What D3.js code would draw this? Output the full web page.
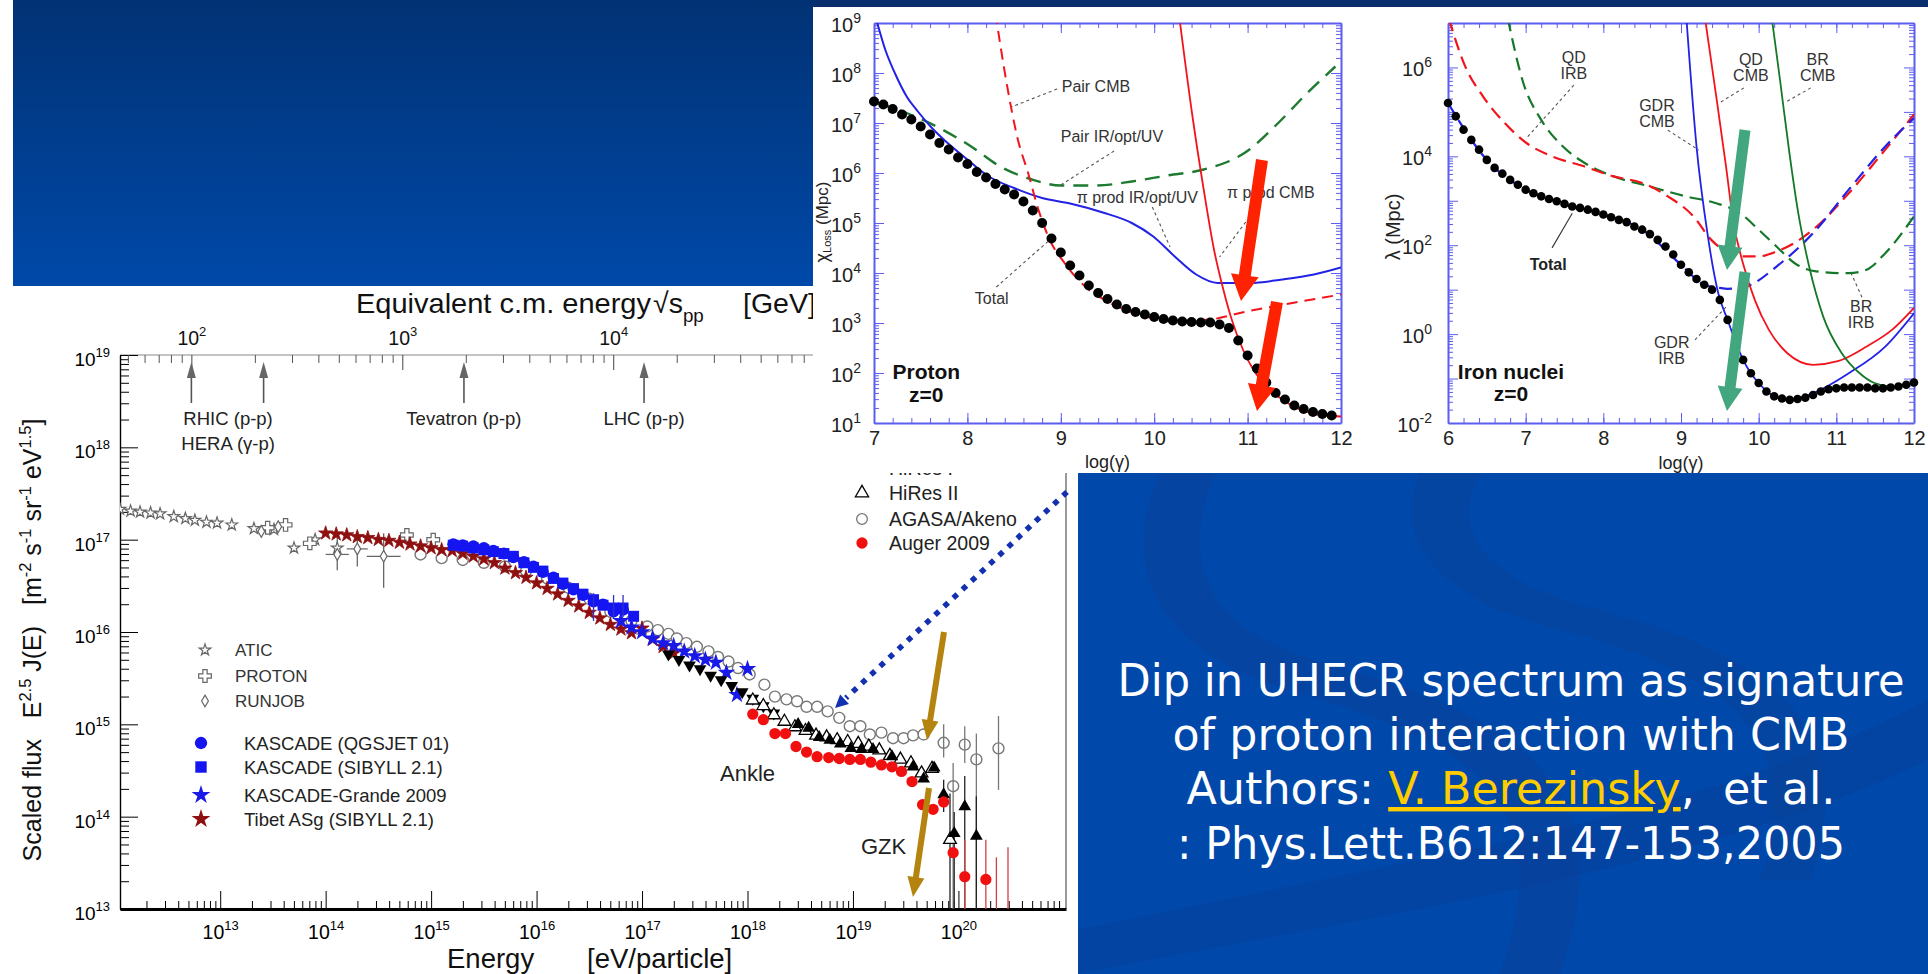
<!DOCTYPE html>
<html>
<head>
<meta charset="utf-8">
<script src="https://cdn.jsdelivr.net/npm/d3@7"></script>
<style>
  html, body { margin: 0; padding: 0; background: #fff; overflow: hidden; }
  svg { display: block; font-family: "Liberation Sans", Arial, sans-serif; }
  .pre { white-space: pre; }
</style>
</head>
<body>
<svg id="slide" width="1928" height="974"></svg>
<script>
// ===== cosmic ray spectrum : log10(E / eV) and log10(E^2.5 J(E)) =====
const aticLogE = [12.05, 12.15, 12.24, 12.34, 12.43, 12.56, 12.67, 12.76, 12.87, 12.97, 13.11, 13.32, 13.51, 13.70, 13.90, 14.11]
const aticLogF = [17.33, 17.31, 17.30, 17.29, 17.28, 17.25, 17.23, 17.21, 17.19, 17.18, 17.16, 17.12, 17.11, 16.91, 17.00, 16.91]

const protonLogE = [13.45, 13.62, 13.85, 14.77, 15.02]
const protonLogF = [17.13, 17.16, 16.96, 17.05, 17.00]

const runjobLogE = [13.39, 13.55, 14.11, 14.30, 14.55]
const runjobLogF = [17.09, 17.14, 16.84, 16.90, 16.82]
const runjobErrLo = [17.04, 17.10, 16.67, 16.71, 16.48]
const runjobErrHi = [17.14, 17.18, 17.07, 17.03, 17.07]
const runjobErrE = [0, 0, 0.11, 0.10, 0.16]

const tibetLogE = [14.0, 14.1, 14.2, 14.3, 14.4, 14.5, 14.6, 14.7, 14.8, 14.9, 15.0, 15.1, 15.2, 15.3, 15.4, 15.5, 15.6,
  15.7, 15.8, 15.9, 16.0, 16.1, 16.2, 16.3, 16.4, 16.5, 16.6, 16.7, 16.8, 16.9, 17.0, 17.1, 17.2, 17.3]
const tibetLogF = [17.07, 17.06, 17.05, 17.03, 17.02, 17.00, 16.99, 16.97, 16.95, 16.93, 16.91, 16.89, 16.88, 16.85, 16.82,
  16.79, 16.75, 16.69, 16.64, 16.59, 16.53, 16.47, 16.41, 16.34, 16.28, 16.21, 16.15, 16.08, 16.03, 15.99, 16.04, 15.92, 15.84, 15.77]

const kascadeQgsLogE = [15.21, 15.30, 15.40, 15.50, 15.59, 15.69, 15.78, 15.88, 15.97, 16.06, 16.16, 16.25, 16.35, 16.44, 16.54, 16.63, 16.73, 16.82]
const kascadeQgsLogF = [16.95, 16.94, 16.93, 16.91, 16.88, 16.85, 16.81, 16.76, 16.71, 16.65, 16.59, 16.52, 16.46, 16.40, 16.33, 16.30, 16.22, 16.24]

const kascadeSibLogE = [15.21, 15.30, 15.40, 15.50, 15.59, 15.69, 15.78, 15.88, 15.97, 16.06, 16.16, 16.25, 16.35, 16.44, 16.54, 16.63, 16.73, 16.82, 16.92]
const kascadeSibLogF = [16.94, 16.93, 16.91, 16.89, 16.87, 16.85, 16.82, 16.75, 16.70, 16.66, 16.58, 16.53, 16.47, 16.41, 16.35, 16.29, 16.26, 16.26, 16.17]

const grandeLogE = [16.8, 16.9, 17.0, 17.1, 17.2, 17.3, 17.4, 17.5, 17.6, 17.7, 17.8, 17.9, 18.0]
const grandeLogF = [16.12, 16.05, 16.00, 15.93, 15.88, 15.85, 15.79, 15.74, 15.70, 15.67, 15.56, 15.32, 15.60]

const hiresMiaLogE = [17.25, 17.35, 17.45, 17.55, 17.65, 17.75, 17.85, 17.95, 18.05, 18.15, 18.25]
const hiresMiaLogF = [15.76, 15.70, 15.64, 15.60, 15.53, 15.48, 15.42, 15.35, 15.28, 15.20, 15.12]

const agasaLogE = [14.9, 15.1, 15.3, 15.5, 15.7, 15.9, 16.1, 16.3, 16.5, 16.7, 16.9, 17.05, 17.15, 17.25, 17.33, 17.42, 17.52,
  17.63, 17.72, 17.82, 17.91, 18.02, 18.16, 18.26, 18.37, 18.47, 18.56, 18.66, 18.76, 18.87, 18.97, 19.07, 19.16, 19.27,
  19.38, 19.48, 19.57, 19.67, 19.86, 19.95, 20.06, 20.17, 20.38]
const agasaLogF = [16.84, 16.80, 16.78, 16.75, 16.71, 16.66, 16.58, 16.48, 16.36, 16.22, 16.12, 16.06, 16.02, 15.98, 15.93,
  15.88, 15.84, 15.79, 15.73, 15.68, 15.61, 15.54, 15.43, 15.30, 15.27, 15.25, 15.19, 15.19, 15.14, 15.07, 14.98, 14.98,
  14.89, 14.91, 14.85, 14.85, 14.88, 14.89, 14.80, 14.33, 14.78, 14.62, 14.74]
const agasaErrE = [19.86, 19.95, 20.06, 20.17, 20.38]
const agasaErrLo = [14.64, 13.0, 14.58, 13.0, 14.29]
const agasaErrHi = [15.00, 14.58, 14.98, 14.90, 15.09]

const hires1LogE = [18.48, 18.58, 18.68, 18.78, 18.88, 18.98, 19.08, 19.19, 19.37, 19.57, 19.67, 19.77, 19.86, 19.96, 20.06, 20.17]
const hires1LogF = [15.00, 14.96, 14.86, 14.83, 14.79, 14.74, 14.73, 14.73, 14.65, 14.54, 14.41, 14.53, 14.24, 13.82, 14.11, 13.79]
const hires1ErrE = [19.86, 19.96, 20.06, 20.17]
const hires1ErrLo = [14.05, 13.0, 13.0, 13.0]
const hires1ErrHi = [14.40, 14.05, 14.44, 14.22]

const hires2LogE = [18.05, 18.15, 18.25, 18.35, 18.45, 18.55, 18.65, 18.75, 18.85, 18.95, 19.05, 19.15, 19.25, 19.35, 19.45, 19.55, 19.65, 19.75, 19.92]
const hires2LogF = [15.26, 15.20, 15.10, 15.03, 14.97, 14.93, 14.88, 14.86, 14.83, 14.81, 14.79, 14.76, 14.72, 14.66, 14.62, 14.58, 14.47, 14.52, 13.75]
const hires2ErrE = [19.92]
const hires2ErrLo = [13.0]
const hires2ErrHi = [14.25]

const augerLogE = [18.05, 18.15, 18.26, 18.36, 18.46, 18.56, 18.66, 18.77, 18.87, 18.97, 19.07, 19.17, 19.27, 19.37, 19.46, 19.56, 19.66, 19.76, 19.86, 19.95, 20.06, 20.26]
const augerLogF = [15.11, 15.05, 14.90, 14.90, 14.76, 14.70, 14.65, 14.64, 14.63, 14.62, 14.62, 14.59, 14.56, 14.54, 14.49, 14.38, 14.13, 14.08, 14.16, 13.61, 13.35, 13.32]
const augerErrE = [20.06, 20.26, 20.36, 20.47]
const augerErrLo = [13.0, 13.0, 13.0, 13.0]
const augerErrHi = [13.75, 13.75, 13.56, 13.67]

const fluxTickExp = [13, 14, 15, 16, 17, 18, 19]
const energyTickExp = [13, 14, 15, 16, 17, 18, 19, 20]
const sqrtsTickExp = [2, 3, 4]

const accelNames = ['RHIC (p-p)', 'HERA (\u03b3-p)', 'Tevatron (p-p)', 'LHC (p-p)']
const accelSqrtS = [100, 220, 1960, 14000]   // GeV

// ===== proton energy loss length : log10(gamma), log10(chi / Mpc) =====
const protonLogG = [7.0, 7.1, 7.2, 7.3, 7.4, 7.5, 7.6, 7.7, 7.8, 7.9, 8.0, 8.1, 8.2, 8.3, 8.4, 8.5, 8.6, 8.7, 8.8, 8.9,
  9.0, 9.1, 9.2, 9.3, 9.4, 9.5, 9.6, 9.7, 9.8, 9.9, 10.0, 10.1, 10.2, 10.3, 10.4, 10.5, 10.6, 10.7, 10.8, 10.9,
  11.0, 11.1, 11.2, 11.3, 11.4, 11.5, 11.6, 11.7, 11.8, 11.9]
const protonTotal = [7.43, 7.37, 7.28, 7.17, 7.07, 6.93, 6.77, 6.60, 6.47, 6.31, 6.18, 6.02, 5.91, 5.78, 5.67, 5.57, 5.43,
  5.25, 5.00, 4.69, 4.41, 4.15, 3.95, 3.75, 3.60, 3.48, 3.37, 3.28, 3.22, 3.17, 3.12, 3.08, 3.05, 3.03, 3.02, 3.01,
  3.01, 2.97, 2.90, 2.65, 2.35, 2.09, 1.81, 1.60, 1.47, 1.35, 1.28, 1.22, 1.18, 1.15]
const pionIrG = [7.02, 7.12, 7.24, 7.35, 7.47, 7.62, 7.77, 8.0, 8.23, 8.5, 8.8, 9.1, 9.45, 9.76, 9.99, 10.22, 10.45, 10.68, 11.02, 11.37, 11.71, 12.0]
const pionIrL = [9.1, 8.47, 7.93, 7.53, 7.23, 6.9, 6.63, 6.27, 5.93, 5.7, 5.5, 5.39, 5.21, 5.0, 4.73, 4.33, 3.97, 3.8, 3.8, 3.87, 3.97, 4.11]
const pairIrG = [7.03, 7.35, 7.73, 8.04, 8.35, 8.69, 9.0, 9.38, 9.76, 10.14, 10.53, 10.99, 11.29, 11.64, 11.94]
const pairIrL = [7.4, 7.2, 6.87, 6.53, 6.13, 5.87, 5.75, 5.75, 5.83, 5.95, 6.07, 6.43, 6.93, 7.6, 8.13]
const pairCmbG = [8.30, 8.42, 8.54, 8.65, 8.75, 8.88, 9.04, 9.26, 9.53, 9.84, 10.22, 10.6, 10.99, 11.48, 12.0]
const pairCmbL = [9.2, 7.8, 6.67, 6.0, 5.33, 4.67, 4.2, 3.73, 3.4, 3.17, 3.03, 3.07, 3.23, 3.4, 3.57]
const pionCmbG = [10.27, 10.41, 10.53, 10.64, 10.74, 10.83, 10.95, 11.06, 11.22, 11.37, 11.56, 11.75, 12.0]
const pionCmbL = [9.1, 7.13, 5.67, 4.47, 3.67, 3.07, 2.47, 2.07, 1.7, 1.47, 1.27, 1.17, 1.13]

// ===== iron nuclei interaction length : log10(gamma), log10(lambda / Mpc) =====
const ironLogG = [6.0, 6.1, 6.2, 6.3, 6.4, 6.5, 6.6, 6.7, 6.8, 6.9, 7.0, 7.1, 7.2, 7.3, 7.4, 7.5, 7.6, 7.7, 7.8, 7.9,
  8.0, 8.1, 8.2, 8.3, 8.4, 8.5, 8.6, 8.7, 8.8, 8.9, 9.0, 9.1, 9.2, 9.3, 9.4, 9.5, 9.6, 9.7, 9.8, 9.9,
  10.0, 10.1, 10.2, 10.3, 10.4, 10.5, 10.6, 10.7, 10.8, 10.9, 11.0, 11.1, 11.2, 11.3, 11.4, 11.5, 11.6, 11.7, 11.8, 11.9, 12.0]
const ironTotal = [5.20, 4.90, 4.60, 4.37, 4.15, 3.92, 3.74, 3.61, 3.47, 3.36, 3.25, 3.17, 3.10, 3.04, 2.99, 2.93, 2.87,
  2.84, 2.80, 2.75, 2.69, 2.63, 2.57, 2.52, 2.42, 2.35, 2.25, 2.12, 1.97, 1.79, 1.56, 1.39, 1.24, 1.11, 1.00, 0.77, 0.32,
  -0.16, -0.58, -0.88, -1.10, -1.29, -1.40, -1.45, -1.48, -1.46, -1.43, -1.37, -1.29, -1.24, -1.22, -1.20, -1.20, -1.20,
  -1.20, -1.22, -1.22, -1.20, -1.18, -1.14, -1.09]
const gdrIrbG = [6.0, 6.5, 7.0, 7.5, 8.0, 8.5, 9.0, 9.3, 9.5, 9.6, 9.75, 9.9, 10.23, 10.7, 11.16, 11.63, 12.0]
const gdrIrbL = [5.2, 3.92, 3.25, 2.93, 2.69, 2.35, 1.56, 1.11, 1.04, 1.02, 1.03, 1.11, 1.52, 2.27, 3.25, 4.22, 4.86]
const gdrCmbG = [9.07, 9.2, 9.34, 9.48, 9.6, 9.7, 9.8, 9.9, 10.0, 10.2, 10.4, 10.7, 11.16, 11.63, 12.0]
const gdrCmbL = [7.1, 4.22, 2.27, 0.92, 0.32, -0.16, -0.58, -0.88, -1.1, -1.4, -1.48, -1.33, -0.88, -0.28, 0.47]
const qdIrbG = [6.01, 6.22, 6.45, 6.73, 7.01, 7.34, 7.76, 8.13, 8.5, 8.83, 9.16, 9.39, 9.62, 9.76, 10.0, 10.23, 10.46, 10.7, 11.16, 11.63, 12.0]
const qdIrbL = [7.1, 6.03, 5.35, 4.75, 4.3, 4.0, 3.77, 3.55, 3.4, 3.1, 2.65, 2.12, 1.82, 1.75, 1.75, 1.86, 2.05, 2.35, 3.17, 4.15, 4.94]
const brIrbG = [6.77, 6.97, 7.2, 7.48, 7.76, 8.13, 8.6, 9.06, 9.44, 9.76, 10.0, 10.23, 10.46, 10.74, 11.16, 11.39, 11.63, 12.0]
const brIrbL = [7.1, 5.65, 4.82, 4.22, 3.85, 3.55, 3.32, 3.1, 2.95, 2.72, 2.35, 1.97, 1.6, 1.41, 1.37, 1.45, 1.82, 2.65]
const qdCmbG = [9.31, 9.46, 9.58, 9.67, 9.81, 9.95, 10.13, 10.37, 10.7, 11.02, 11.39, 11.72, 12.0]
const qdCmbL = [7.1, 5.27, 3.77, 2.57, 1.52, 0.77, 0.1, -0.43, -0.69, -0.61, -0.28, 0.1, 0.59]
const brCmbG = [10.17, 10.28, 10.39, 10.51, 10.65, 10.83, 11.07, 11.3, 11.49, 11.72, 12.0]
const brCmbL = [7.1, 5.65, 4.15, 2.72, 1.52, 0.4, -0.43, -0.88, -1.1, -1.18, -1.1]

const protonTickG = [7, 8, 9, 10, 11, 12]
const protonTickExp = [1, 2, 3, 4, 5, 6, 7, 8, 9]
const ironTickG = [6, 7, 8, 9, 10, 11, 12]
const ironTickExp = [-2, -1, 0, 1, 2, 3, 4, 5, 6, 7]
const ironLabelExp = [-2, 0, 2, 4, 6]

// ---------------------------------------------------------------------------
const svg = d3.select('#slide')
const defs = svg.append('defs')

const topGrad = defs.append('linearGradient').attr('id', 'topBlue').attr('x1', 0).attr('y1', 0).attr('x2', 0).attr('y2', 1)
topGrad.append('stop').attr('offset', '0%').attr('stop-color', '#013274')
topGrad.append('stop').attr('offset', '100%').attr('stop-color', '#0049a9')

svg.append('rect').attr('width', 1928).attr('height', 974).attr('fill', '#fff')

function clip(id, x, y, w, h) {
    defs.append('clipPath').attr('id', id).append('rect').attr('x', x).attr('y', y).attr('width', w).attr('height', h)
    return `url(#${id})`
}

// text with super/subscripts: parts = [[string, 'sup'|'sub'|null]]
function rich(text, parts, fs) {
    let cur = 0
    parts.forEach(([s, k]) => {
        const off = k === 'sup' ? -0.42 * fs : k === 'sub' ? 0.3 * fs : 0
        text.append('tspan').attr('dy', off - cur).attr('font-size', k ? fs * 0.66 : fs).text(s)
        cur = off
    })
}

// rewrite axis tick labels as 10^n
function expTicks(g, fs, supDy) {
    g.selectAll('.tick text').each(function (d) {
        const t = d3.select(this)
        if (t.text() === '') return
        t.text(null)
        t.append('tspan').text('10')
        t.append('tspan').attr('dy', supDy).attr('font-size', Math.round(fs * 0.68)).text(Math.round(Math.log10(d)))
    })
}

function minorLog(lo, hi) {
    const out = []
    for (let p = Math.floor(Math.log10(lo)); p <= Math.ceil(Math.log10(hi)); p++)
        for (let k = 2; k <= 9; k++) { const v = k * 10 ** p; if (v >= lo && v <= hi) out.push(v) }
    return out
}

function blockArrow(g, [x1, y1], [x2, y2], w, hw, hl, color) {
    const L = Math.hypot(x2 - x1, y2 - y1), ux = (x2 - x1) / L, uy = (y2 - y1) / L
    const nx = -uy, ny = ux, bx = x2 - ux * hl, by = y2 - uy * hl
    const pts = [
        [x1 + nx * w / 2, y1 + ny * w / 2], [bx + nx * w / 2, by + ny * w / 2], [bx + nx * hw / 2, by + ny * hw / 2],
        [x2, y2], [bx - nx * hw / 2, by - ny * hw / 2], [bx - nx * w / 2, by - ny * w / 2], [x1 - nx * w / 2, y1 - ny * w / 2]]
    g.append('polygon').attr('points', pts.map(p => p.join(',')).join(' ')).attr('fill', color)
}

// =================== cosmic ray spectrum ===================
const spec = svg.append('g')
const specX = d3.scaleLog().domain([10 ** 12.05, 10 ** 21.02]).range([120, 1066])
const specY = d3.scaleLog().domain([1e13, 1e19]).range([909, 355])
// sqrt(s) of a proton hitting a proton at rest: s = 2 m_p E
const sqrtsX = d3.scaleLog().domain(specX.domain().map(E => Math.sqrt(2 * 0.938e-9 * E))).range(specX.range())

// frame
spec.append('line').attr('x1', 120).attr('x2', 1066).attr('y1', 355).attr('y2', 355).attr('stroke', '#8a8a8a').attr('stroke-width', 1.2)
spec.append('line').attr('x1', 1066).attr('x2', 1066).attr('y1', 355).attr('y2', 909).attr('stroke', '#555').attr('stroke-width', 1.2)

// left axis
const fluxMajor = fluxTickExp.map(p => 10 ** p)
spec.append('g').attr('transform', 'translate(120,0)')
    .call(d3.axisLeft(specY).tickValues(minorLog(1e13, 1e19)).tickSize(-9).tickFormat(''))
    .call(g => g.select('.domain').remove())
spec.append('g').attr('transform', 'translate(120,0)')
    .call(d3.axisLeft(specY).tickValues(fluxMajor).tickSizeInner(-18).tickSizeOuter(0).tickPadding(10).tickFormat(() => 'x'))
    .call(g => g.attr('font-size', 19).attr('font-family', null))
    .call(g => g.select('.domain').attr('stroke-width', 1.4))
    .call(g => g.selectAll('.tick text').attr('dy', '0.55em'))
    .call(g => expTicks(g, 19, -9))

// bottom axis
spec.append('g').attr('transform', 'translate(0,909)')
    .call(d3.axisBottom(specX).tickValues(minorLog(specX.domain()[0], 1e21)).tickSize(-8).tickFormat(''))
    .call(g => g.select('.domain').remove())
spec.append('g').attr('transform', 'translate(0,909)')
    .call(d3.axisBottom(specX).tickValues(energyTickExp.map(p => 10 ** p)).tickSizeInner(-18).tickSizeOuter(0).tickPadding(16).tickFormat(() => 'x'))
    .call(g => g.attr('font-size', 19.5).attr('font-family', null))
    .call(g => g.select('.domain').attr('stroke-width', 3.2))
    .call(g => expTicks(g, 19.5, -9))

// top axis: equivalent centre-of-mass energy
spec.append('g').attr('transform', 'translate(0,355)').attr('color', '#555')
    .call(d3.axisTop(sqrtsX).tickValues(minorLog(sqrtsX.domain()[0], sqrtsX.domain()[1])).tickSize(-8).tickFormat(''))
    .call(g => g.select('.domain').remove())
spec.append('g').attr('transform', 'translate(0,355)').attr('color', '#444')
    .call(d3.axisTop(sqrtsX).tickValues(sqrtsTickExp.map(p => 10 ** p)).tickSizeInner(-15).tickSizeOuter(0).tickPadding(10).tickFormat(() => 'x'))
    .call(g => g.attr('font-size', 19.5).attr('font-family', null))
    .call(g => g.select('.domain').remove())
    .call(g => g.selectAll('text').attr('fill', '#111'))
    .call(g => expTicks(g, 19.5, -9))

spec.append('text').attr('x', 356).attr('y', 313).attr('font-size', 28.5).attr('fill', '#111')
    .attr('textLength', 295).attr('lengthAdjust', 'spacingAndGlyphs').text('Equivalent c.m. energy')
const rootS = spec.append('text').attr('x', 653).attr('y', 313).attr('fill', '#111')
rich(rootS, [['\u221as', null], ['pp', 'sub']], 28.5)
spec.append('text').attr('x', 743).attr('y', 313).attr('font-size', 28.5).attr('fill', '#111').text('[GeV]')

// accelerator arrows
const accel = spec.append('g')
accelSqrtS.forEach((s, i) => {
    const x = sqrtsX(s)
    accel.append('line').attr('x1', x).attr('x2', x).attr('y1', 403).attr('y2', 374).attr('stroke', '#555').attr('stroke-width', 1.6)
    accel.append('path').attr('d', `M${x},362L${x - 4.5},378L${x + 4.5},378Z`).attr('fill', '#666')
})
const accelLabelX = [sqrtsX(accelSqrtS[0]) - 8, sqrtsX(accelSqrtS[0]) - 10, sqrtsX(accelSqrtS[2]), sqrtsX(accelSqrtS[3])]
const accelLabelY = [425, 450, 425, 425]
const accelAnchor = ['start', 'start', 'middle', 'middle']
accelNames.forEach((n, i) => {
    accel.append('text').attr('x', accelLabelX[i]).attr('y', accelLabelY[i]).attr('text-anchor', accelAnchor[i])
        .attr('font-size', 18.5).attr('fill', '#222').text(n)
})

// axis titles
const yTitle = spec.append('text').attr('class', 'pre').attr('transform', 'translate(41,640) rotate(-90)')
    .attr('text-anchor', 'middle').attr('fill', '#111')
rich(yTitle, [['Scaled flux   E', null], ['2.5', 'sup'], [' J(E)   [m', null], ['-2', 'sup'], [' s', null], ['-1', 'sup'],
    [' sr', null], ['-1', 'sup'], [' eV', null], ['1.5', 'sup'], [']', null]], 25)
spec.append('text').attr('x', 447).attr('y', 968).attr('font-size', 27.5).attr('fill', '#111').text('Energy')
spec.append('text').attr('x', 587).attr('y', 968).attr('font-size', 27.5).attr('fill', '#111').text('[eV/particle]')

// data
const specData = spec.append('g').attr('clip-path', clip('specClip', 120, 355, 946, 556))
const px = d => specX(10 ** d[0]), py = d => specY(10 ** d[1])

function errBars(g, es, lo, hi, color, width) {
    g.selectAll(null).data(d3.zip(es, lo, hi)).join('line')
        .attr('x1', d => specX(10 ** d[0])).attr('x2', d => specX(10 ** d[0]))
        .attr('y1', d => specY(10 ** d[1])).attr('y2', d => specY(10 ** d[2]))
        .attr('stroke', color).attr('stroke-width', width)
}
function points(g, es, fs, type, size, fill, stroke, sw, rot) {
    g.selectAll(null).data(d3.zip(es, fs)).join('path')
        .attr('transform', d => `translate(${px(d)},${py(d)})${rot ? ' rotate(180)' : ''}`)
        .attr('d', d3.symbol(type, size)).attr('fill', fill).attr('stroke', stroke).attr('stroke-width', sw)
}

errBars(specData, runjobLogE, runjobErrLo, runjobErrHi, '#666', 1.3)
specData.selectAll(null).data(d3.zip(runjobLogE, runjobLogF, runjobErrE)).join('line')
    .attr('x1', d => specX(10 ** (d[0] - d[2]))).attr('x2', d => specX(10 ** (d[0] + d[2])))
    .attr('y1', py).attr('y2', py).attr('stroke', '#666').attr('stroke-width', 1.2)
points(specData, aticLogE, aticLogF, d3.symbolStar, 42, '#fff', '#666', 1.2)
points(specData, protonLogE, protonLogF, d3.symbolCross, 90, '#fff', '#666', 1.2)
points(specData, runjobLogE, runjobLogF, d3.symbolDiamond, 40, '#fff', '#666', 1.2)
points(specData, agasaLogE, agasaLogF, d3.symbolCircle, 95, '#fff', '#777', 1.4)
points(specData, tibetLogE, tibetLogF, d3.symbolStar, 62, '#8e0f0f', '#8e0f0f', 0.8)
points(specData, kascadeQgsLogE, kascadeQgsLogF, d3.symbolCircle, 110, '#1515f2', 'none', 0)
points(specData, kascadeSibLogE, kascadeSibLogF, d3.symbolSquare, 120, '#1515f2', 'none', 0)
errBars(specData, [16.54, 16.73, 16.82], [16.12, 16.14, 16.16], [16.42, 16.40, 16.40], '#3030c8', 1.3)
points(specData, grandeLogE, grandeLogF, d3.symbolStar, 95, '#1a1ae8', 'none', 0)
points(specData, hiresMiaLogE, hiresMiaLogF, d3.symbolTriangle, 70, '#000', 'none', 0, true)
errBars(specData, agasaErrE, agasaErrLo, agasaErrHi, '#777', 1.3)
errBars(specData, hires1ErrE, hires1ErrLo, hires1ErrHi, '#222', 1.3)
errBars(specData, hires2ErrE, hires2ErrLo, hires2ErrHi, '#222', 1.3)
errBars(specData, augerErrE, augerErrLo, augerErrHi, '#d04040', 1.3)
points(specData, hires2LogE, hires2LogF, d3.symbolTriangle, 70, '#fff', '#000', 1.3)
points(specData, hires1LogE, hires1LogF, d3.symbolTriangle, 70, '#000', 'none', 0)
points(specData, augerLogE, augerLogF, d3.symbolCircle, 100, '#f01010', 'none', 0)

// legends
const legA = spec.append('g')
const legAItems = [['ATIC', d3.symbolStar, 42, '#fff', '#666'], ['PROTON', d3.symbolCross, 90, '#fff', '#666'], ['RUNJOB', d3.symbolDiamond, 40, '#fff', '#666']]
const legAY = [650, 676, 701]
legAItems.forEach((it, i) => {
    legA.append('path').attr('transform', `translate(205,${legAY[i]})`).attr('d', d3.symbol(it[1], it[2])).attr('fill', it[3]).attr('stroke', it[4]).attr('stroke-width', 1.2)
    legA.append('text').attr('x', 235).attr('y', legAY[i] + 6).attr('font-size', 17).attr('fill', '#333').text(it[0])
})
const legB = spec.append('g')
const legBItems = [['KASCADE (QGSJET 01)', d3.symbolCircle, 120, '#1515f2'], ['KASCADE (SIBYLL 2.1)', d3.symbolSquare, 130, '#1515f2'],
    ['KASCADE-Grande 2009', d3.symbolStar, 110, '#1a1ae8'], ['Tibet ASg (SIBYLL 2.1)', d3.symbolStar, 110, '#8e0f0f']]
const legBY = [743, 767, 795, 819]
legBItems.forEach((it, i) => {
    legB.append('path').attr('transform', `translate(201,${legBY[i]})`).attr('d', d3.symbol(it[1], it[2])).attr('fill', it[3])
    legB.append('text').attr('x', 244).attr('y', legBY[i] + 7).attr('font-size', 18.5).attr('fill', '#222').text(it[0])
})
const legC = spec.append('g')
const legCItems = [['HiRes I', d3.symbolTriangle, 75, '#000', 'none'], ['HiRes II', d3.symbolTriangle, 75, '#fff', '#000'],
    ['AGASA/Akeno', d3.symbolCircle, 90, '#fff', '#777'], ['Auger 2009', d3.symbolCircle, 100, '#f01010', 'none']]
const legCY = [468, 493, 519, 543]
legCItems.forEach((it, i) => {
    legC.append('path').attr('transform', `translate(862,${legCY[i]})`).attr('d', d3.symbol(it[1], it[2])).attr('fill', it[3]).attr('stroke', it[4]).attr('stroke-width', 1.3)
    legC.append('text').attr('x', 889).attr('y', legCY[i] + 7).attr('font-size', 19.5).attr('fill', '#222').text(it[0])
})

spec.append('text').attr('x', specX(10 ** 18.0)).attr('y', specY(10 ** 14.47) + 8).attr('text-anchor', 'middle').attr('font-size', 22).attr('fill', '#222').text('Ankle')
spec.append('text').attr('x', specX(10 ** 19.29)).attr('y', specY(10 ** 13.68) + 8).attr('text-anchor', 'middle').attr('font-size', 22).attr('fill', '#222').text('GZK')

// =================== loss-length panels ===================
svg.append('rect').attr('x', 813).attr('y', 0).attr('width', 1115).attr('height', 473).attr('fill', '#fff')

const BLUE = '#2222e6', RED = '#f2141c', GREEN = '#147828', FRAME = '#5d5df0'

function lossAxes(g, x, y, xTicks, yExp, labelExp, labelPad) {
    const [x0, x1] = x.range(), [y0, y1] = y.range()
    const [g0, g1] = x.domain()
    const xMinor = d3.range(Math.round(g0 * 5), Math.round(g1 * 5) + 1).map(v => v / 5)
    const yMinor = minorLog(y.domain()[0], y.domain()[1])
    const yMajor = yExp.map(p => 10 ** p)
    const style = a => a.attr('color', FRAME).attr('font-size', 20).attr('font-family', null)
        .call(s => s.selectAll('text').attr('fill', '#222'))
    g.append('g').attr('transform', `translate(0,${y0})`).call(d3.axisBottom(x).tickValues(xMinor).tickSize(-5).tickFormat('')).call(style).call(s => s.select('.domain').remove())
    g.append('g').attr('transform', `translate(0,${y0})`).call(d3.axisBottom(x).tickValues(xTicks).tickSizeInner(-10).tickSizeOuter(0).tickPadding(8).tickFormat(d3.format('d'))).call(style)
        .call(s => s.select('.domain').attr('stroke-width', 2))
    g.append('g').attr('transform', `translate(0,${y1})`).call(d3.axisTop(x).tickValues(xMinor).tickSize(-5).tickFormat('')).call(style).call(s => s.select('.domain').remove())
    g.append('g').attr('transform', `translate(0,${y1})`).call(d3.axisTop(x).tickValues(xTicks).tickSizeInner(-10).tickSizeOuter(0).tickFormat('')).call(style)
        .call(s => s.select('.domain').attr('stroke-width', 2))
    g.append('g').attr('transform', `translate(${x0},0)`).call(d3.axisLeft(y).tickValues(yMinor).tickSize(-5).tickFormat('')).call(style).call(s => s.select('.domain').remove())
    g.append('g').attr('transform', `translate(${x0},0)`)
        .call(d3.axisLeft(y).tickValues(yMajor).tickSizeInner(-10).tickSizeOuter(0).tickPadding(labelPad)
            .tickFormat(d => labelExp.includes(Math.round(Math.log10(d))) ? 'x' : ''))
        .call(style).call(s => s.select('.domain').attr('stroke-width', 2))
        .call(s => s.selectAll('.tick text').attr('dy', '0.4em'))
        .call(s => expTicks(s, 20, -9))
    g.append('g').attr('transform', `translate(${x1},0)`).call(d3.axisRight(y).tickValues(yMinor).tickSize(-5).tickFormat('')).call(style).call(s => s.select('.domain').remove())
    g.append('g').attr('transform', `translate(${x1},0)`).call(d3.axisRight(y).tickValues(yMajor).tickSizeInner(-10).tickSizeOuter(0).tickFormat('')).call(style)
        .call(s => s.select('.domain').attr('stroke-width', 2))
}

function lossCurve(g, x, y, gs, ls, color, dash, width) {
    g.append('path').datum(d3.zip(gs, ls))
        .attr('d', d3.line().x(d => x(d[0])).y(d => y(10 ** d[1])).curve(d3.curveMonotoneX))
        .attr('fill', 'none').attr('stroke', color).attr('stroke-width', width || 2).attr('stroke-dasharray', dash || null)
}

function leader(g, x, y, a, b, solid) {
    g.append('line').attr('x1', x(a[0])).attr('y1', y(10 ** a[1])).attr('x2', x(b[0])).attr('y2', y(10 ** b[1]))
        .attr('stroke', solid ? '#333' : '#555').attr('stroke-width', 1.1).attr('stroke-dasharray', solid ? null : '3 3')
}

function note(g, x, y, at, lines, opts = {}) {
    const t = g.append('text').attr('x', x(at[0])).attr('y', y(10 ** at[1])).attr('text-anchor', opts.anchor || 'middle')
        .attr('font-size', opts.fs || 16).attr('font-weight', opts.bold ? 'bold' : null).attr('fill', opts.color || '#333')
    lines.forEach((l, i) => t.append('tspan').attr('x', x(at[0])).attr('dy', i ? (opts.lh || 16) : 0).text(l))
    return t
}

// ---- proton ----
const pg = svg.append('g')
const pX = d3.scaleLinear().domain([7, 12]).range([874, 1341])
const pY = d3.scaleLog().domain([1e1, 1e9]).range([423, 23])
lossAxes(pg, pX, pY, protonTickG, protonTickExp, protonTickExp, 13)
const pLines = pg.append('g').attr('clip-path', clip('pClip', 874, 23, 467, 400))
lossCurve(pLines, pX, pY, pairIrG, pairIrL, '#1d7a30', '15 9', 2.4)
lossCurve(pLines, pX, pY, pionIrG, pionIrL, BLUE, null, 2)
lossCurve(pLines, pX, pY, pairCmbG, pairCmbL, RED, '11 7', 2)
lossCurve(pLines, pX, pY, pionCmbG, pionCmbL, RED, null, 1.8)
pg.append('g').selectAll('circle').data(d3.zip(protonLogG, protonTotal)).join('circle')
    .attr('cx', d => pX(d[0])).attr('cy', d => pY(10 ** d[1])).attr('r', 5).attr('fill', '#000')

leader(pg, pX, pY, [8.96, 7.68], [8.47, 7.32])
leader(pg, pX, pY, [9.57, 6.44], [9.0, 5.76])
leader(pg, pX, pY, [9.98, 5.32], [10.17, 4.52])
leader(pg, pX, pY, [10.98, 5.02], [10.70, 4.32])
leader(pg, pX, pY, [8.31, 3.72], [8.88, 4.66])
note(pg, pX, pY, [9.01, 7.62], ['Pair CMB'], { anchor: 'start' })
note(pg, pX, pY, [9.0, 6.62], ['Pair IR/opt/UV'], { anchor: 'start' })
note(pg, pX, pY, [9.17, 5.40], ['\u03c0 prod IR/opt/UV'], { anchor: 'start' })
note(pg, pX, pY, [10.78, 5.50], ['\u03c0 prod CMB'], { anchor: 'start' })
note(pg, pX, pY, [8.08, 3.38], ['Total'], { anchor: 'start' })
note(pg, pX, pY, [7.56, 1.88], ['Proton', 'z=0'], { bold: true, fs: 21, lh: 23, color: '#111' })

pg.append('text').attr('x', pX(9.5)).attr('y', 468).attr('text-anchor', 'middle').attr('font-size', 18).attr('fill', '#222').text('log(\u03b3)')
const pYt = pg.append('text').attr('class', 'pre').attr('transform', 'translate(828,222) rotate(-90)').attr('text-anchor', 'middle').attr('fill', '#222')
pYt.append('tspan').attr('font-size', 18).text('\u03c7')
pYt.append('tspan').attr('font-size', 11).attr('dy', 3).text('Loss')
pYt.append('tspan').attr('font-size', 17).attr('dy', -3).text(' (Mpc)')

// ---- iron ----
const ig = svg.append('g')
const iX = d3.scaleLinear().domain([6, 12]).range([1448, 1914])
const iY = d3.scaleLog().domain([1e-2, 1e7]).range([423, 23])
lossAxes(ig, iX, iY, ironTickG, ironTickExp, ironLabelExp, 16)
const iLines = ig.append('g').attr('clip-path', clip('iClip', 1448, 23, 466, 400))
lossCurve(iLines, iX, iY, brIrbG, brIrbL, GREEN, '13 7', 2.2)
lossCurve(iLines, iX, iY, qdIrbG, qdIrbL, RED, '13 7', 2.2)
lossCurve(iLines, iX, iY, gdrIrbG, gdrIrbL, BLUE, '13 7', 2.2)
lossCurve(iLines, iX, iY, gdrCmbG, gdrCmbL, BLUE, null, 1.8)
lossCurve(iLines, iX, iY, qdCmbG, qdCmbL, RED, null, 1.8)
lossCurve(iLines, iX, iY, brCmbG, brCmbL, GREEN, null, 1.8)
ig.append('g').selectAll('circle').data(d3.zip(ironLogG, ironTotal)).join('circle')
    .attr('cx', d => iX(d[0])).attr('cy', d => iY(10 ** d[1])).attr('r', 4.3).attr('fill', '#000')

leader(ig, iX, iY, [7.62, 5.60], [7.02, 4.43])
leader(ig, iX, iY, [9.81, 5.54], [9.49, 5.20])
leader(ig, iX, iY, [10.67, 5.54], [10.35, 5.22])
leader(ig, iX, iY, [8.83, 4.59], [9.23, 4.14])
leader(ig, iX, iY, [7.60, 2.72], [7.34, 1.94], true)
leader(ig, iX, iY, [9.18, -0.13], [9.58, 0.61])
leader(ig, iX, iY, [11.33, 0.83], [11.19, 1.37])
note(ig, iX, iY, [7.62, 6.10], ['QD', 'IRB'])
note(ig, iX, iY, [9.90, 6.06], ['QD', 'CMB'])
note(ig, iX, iY, [10.76, 6.06], ['BR', 'CMB'])
note(ig, iX, iY, [8.69, 5.02], ['GDR', 'CMB'])
note(ig, iX, iY, [7.29, 1.44], ['Total'], { bold: true, color: '#222' })
note(ig, iX, iY, [8.88, -0.31], ['GDR', 'IRB'])
note(ig, iX, iY, [11.32, 0.50], ['BR', 'IRB'])
note(ig, iX, iY, [6.81, -1.02], ['Iron nuclei', 'z=0'], { bold: true, fs: 21, lh: 22, color: '#111' })

ig.append('text').attr('x', iX(9)).attr('y', 469).attr('text-anchor', 'middle').attr('font-size', 18).attr('fill', '#222').text('log(\u03b3)')
ig.append('text').attr('class', 'pre').attr('transform', 'translate(1400,227) rotate(-90)').attr('text-anchor', 'middle')
    .attr('font-size', 20).attr('fill', '#222').text('\u03bb (Mpc)')

// =================== slide background pieces ===================
svg.append('rect').attr('x', 813).attr('y', 0).attr('width', 1115).attr('height', 7).attr('fill', '#0b2e6e')
svg.append('rect').attr('x', 13).attr('y', 0).attr('width', 800).attr('height', 286).attr('fill', 'url(#topBlue)')

const panel = svg.append('g')
panel.append('rect').attr('x', 1078).attr('y', 473).attr('width', 850).attr('height', 501).attr('fill', '#0048aa')
panel.append('path').attr('d', 'M1160,474 C1120,560 1150,650 1290,690 C1480,745 1560,800 1500,974 L1560,974 C1620,800 1540,720 1330,665 C1200,630 1180,560 1215,474 Z')
    .attr('fill', '#0a4097').attr('opacity', 0.45)
panel.append('path').attr('d', 'M1420,474 C1390,540 1440,600 1560,630 C1760,680 1800,760 1760,880 L1810,880 C1860,740 1790,660 1600,610 C1480,580 1450,530 1480,474 Z')
    .attr('fill', '#0a4097').attr('opacity', 0.4)
panel.append('path').attr('d', 'M1078,930 C1400,860 1700,820 1928,700 L1928,760 C1700,870 1400,910 1078,974 Z')
    .attr('fill', '#0a3f94').attr('opacity', 0.35)

const noteLines = [
    [['Dip in UHECR spectrum as signature', '#fff']],
    [['of proton interaction with CMB', '#fff']],
    [['Authors: ', '#fff'], ['V. Berezinsky', '#ffcc00'], [',  et al.', '#fff']],
    [[': Phys.Lett.B612:147-153,2005', '#fff']]
]
const noteWidths = [787, 677, 649, 668]
const noteBase = [696, 750, 804, 859]
noteLines.forEach((parts, i) => {
    const t = panel.append('text').attr('class', 'pre').attr('x', 1511).attr('y', noteBase[i]).attr('text-anchor', 'middle')
        .attr('font-family', '"DejaVu Sans", Verdana, sans-serif').attr('font-size', 44)
        .attr('textLength', noteWidths[i]).attr('lengthAdjust', 'spacingAndGlyphs')
    parts.forEach(([s, c]) => {
        const ts = t.append('tspan').attr('fill', c).text(s)
        if (c === '#ffcc00') ts.style('text-decoration', 'underline')
    })
})

// =================== overlay arrows ===================
const over = svg.append('g')
blockArrow(over, [1262, 160], [1241, 301], 12, 28, 26, '#ff2200')
blockArrow(over, [1277, 302], [1257, 411], 12, 28, 26, '#ff2200')
blockArrow(over, [1745, 130], [1727, 270], 11, 25, 24, '#42a67e')
blockArrow(over, [1745, 272], [1727, 411], 11, 25, 24, '#42a67e')
blockArrow(over, [944, 632], [927, 740], 6, 17, 20, '#b4840f')
blockArrow(over, [929, 788], [913, 897], 6, 17, 20, '#b4840f')
over.append('line').attr('x1', 1067).attr('y1', 492).attr('x2', 846).attr('y2', 698)
    .attr('stroke', '#1330b0').attr('stroke-width', 5.5).attr('stroke-dasharray', '5.5 7')
blockArrow(over, [848, 696], [835, 708], 0, 13, 13, '#1330b0')
</script>
</body>
</html>
